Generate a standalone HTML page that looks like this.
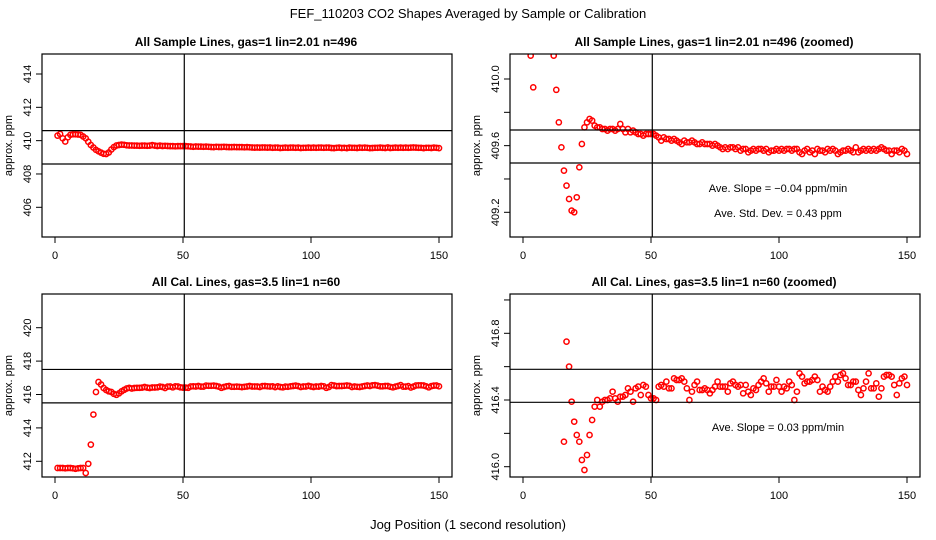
<!DOCTYPE html>
<html><head><meta charset="utf-8"><style>
html,body{margin:0;padding:0;background:#fff;overflow:hidden;width:936px;height:540px;}
svg{display:block;font-family:"Liberation Sans",sans-serif;}
</style></head><body>
<svg id="chart" width="936" height="540" viewBox="0 0 936 540">
<text x="468" y="18" text-anchor="middle" font-size="13">FEF_110203  CO2 Shapes Averaged by Sample or Calibration</text>
<text x="468" y="529" text-anchor="middle" font-size="13">Jog Position (1 second resolution)</text>
</svg>
<script>
const sampleVals = [
410.3,410.4,410.14,409.95,410.2,410.35,410.38,410.38,410.37,410.35,
410.25,410.14,409.935,409.74,409.59,409.45,409.36,409.28,409.21,409.2,
409.29,409.47,409.61,409.71,409.74,409.76,409.75,409.72,409.71,409.71,
409.70,409.70,409.69,409.70,409.70,409.69,409.70,409.73,409.70,409.68,
409.70,409.68,409.69,409.68,409.67,409.67,409.66,409.67,409.67,409.67,
409.67,409.66,409.65,409.63,409.65,409.64,409.64,409.63,409.64,409.63,
409.62,409.61,409.63,409.62,409.62,409.63,409.62,409.61,409.61,409.62,
409.61,409.61,409.61,409.60,409.61,409.60,409.59,409.58,409.59,409.58,
409.59,409.59,409.58,409.59,409.57,409.58,409.58,409.56,409.57,409.58,
409.57,409.58,409.58,409.57,409.58,409.56,409.57,409.57,409.58,409.57,
409.58,409.57,409.58,409.58,409.57,409.58,409.58,409.56,409.55,409.57,
409.58,409.56,409.57,409.55,409.58,409.57,409.57,409.56,409.58,409.57,
409.58,409.57,409.55,409.56,409.57,409.57,409.58,409.57,409.56,409.59,
409.56,409.57,409.58,409.57,409.58,409.57,409.58,409.57,409.58,409.59,
409.58,409.57,409.57,409.55,409.57,409.57,409.56,409.58,409.57,409.55];
const calVals = [
411.6,411.6,411.6,411.58,411.6,411.6,411.58,411.55,411.58,411.6,
411.6,411.3,411.85,413.0,414.8,416.15,416.75,416.6,416.39,416.27,
416.19,416.15,416.04,415.98,416.07,416.19,416.28,416.36,416.40,416.36,
416.39,416.40,416.40,416.41,416.45,416.41,416.39,416.42,416.42,416.43,
416.47,416.45,416.39,416.47,416.48,416.43,416.49,416.48,416.43,416.41,
416.41,416.40,416.48,416.49,416.48,416.51,416.47,416.47,416.53,416.52,
416.52,416.53,416.51,416.47,416.40,416.45,416.49,416.51,416.46,416.46,
416.47,416.46,416.44,416.46,416.48,416.51,416.48,416.48,416.48,416.45,
416.50,416.51,416.49,416.48,416.49,416.44,416.49,416.45,416.43,416.47,
416.46,416.49,416.51,416.53,416.50,416.45,416.48,416.48,416.52,416.48,
416.45,416.48,416.47,416.51,416.49,416.40,416.45,416.56,416.54,416.50,
416.51,416.51,416.52,416.54,416.52,416.45,416.48,416.46,416.45,416.48,
416.51,416.54,416.51,416.55,416.56,416.53,416.49,416.49,416.51,416.51,
416.46,416.43,416.47,416.51,416.56,416.47,416.47,416.50,416.42,416.47,
416.54,416.55,416.55,416.54,416.49,416.43,416.50,416.53,416.54,416.49];
const xTicks = [0,50,100,150];
const vLine = 50.5;
const panels = [
 {name:'sample-full', title:'All Sample Lines, gas=1 lin=2.01 n=496', vals:sampleVals, x0:0, top:54, bot:237, yA:414, pA:74, yB:406, pB:207.3,
  ticks:[406,408,410,412,414], labels:['406','408','410','412','414'], hlines:[410.6,408.6], notes:[]},
 {name:'sample-zoomed', title:'All Sample Lines, gas=1 lin=2.01 n=496 (zoomed)', vals:sampleVals, x0:468, top:54, bot:237, yA:410.0, pA:79, yB:409.2, pB:212.3,
  ticks:[409.2,409.4,409.6,409.8,410.0], labels:['409.2','','409.6','','410.0'], hlines:[409.694,409.496],
  notes:[['Ave. Slope =  \u22120.04  ppm/min',188],['Ave. Std. Dev. =  0.43  ppm',213]]},
 {name:'cal-full', title:'All Cal. Lines, gas=3.5 lin=1 n=60', vals:calVals, x0:0, top:294, bot:477, yA:420, pA:327.7, yB:412, pB:461.3,
  ticks:[412,414,416,418,420], labels:['412','414','416','418','420'], hlines:[417.5,415.5], notes:[]},
 {name:'cal-zoomed', title:'All Cal. Lines, gas=3.5 lin=1 n=60 (zoomed)', vals:calVals, x0:468, top:294, bot:477, yA:416.8, pA:333.3, yB:416.0, pB:466.7,
  ticks:[416.0,416.2,416.4,416.6,416.8,417.0], labels:['416.0','','416.4','','416.8',''], hlines:[416.584,416.386],
  notes:[['Ave. Slope =  0.03  ppm/min',427]]}
];
const NS='http://www.w3.org/2000/svg';
const svg=document.getElementById('chart');
function mk(tag,attrs,parent){const e=document.createElementNS(NS,tag);for(const k in attrs)e.setAttribute(k,attrs[k]);(parent||svg).appendChild(e);return e;}
panels.forEach((p,pi)=>{
 const L=p.x0+42,R=p.x0+452;
 const xs=v=>p.x0+55+v*384/150;
 const ys=v=>p.pA+(v-p.yA)*(p.pB-p.pA)/(p.yB-p.yA);
 const g=mk('g',{});
 
 
 const cp=mk('clipPath',{id:'cp'+pi},g);
 mk('rect',{x:L,y:p.top,width:R-L,height:p.bot-p.top},cp);
 const t=mk('text',{x:p.x0+246,y:p.top-8,'text-anchor':'middle','font-size':'12','font-weight':'bold'},g);
 t.textContent=p.title;
 
 
 const yl=mk('text',{x:0,y:0,'text-anchor':'middle','font-size':'11',transform:`translate(${p.x0+12},${(p.top+p.bot)/2}) rotate(-90)`},g);
 yl.textContent='approx. ppm';
 
 
 xTicks.forEach(v=>{
  mk('line',{x1:xs(v),x2:xs(v),y1:p.bot,y2:p.bot+6,stroke:'#000'},g);
  const tx=mk('text',{x:xs(v),y:p.bot+22,'text-anchor':'middle','font-size':'11'},g);
  tx.textContent=String(v);
  
  
 });
 p.ticks.forEach((v,i)=>{
  const y=ys(v);
  mk('line',{x1:L-6,x2:L,y1:y,y2:y,stroke:'#000'},g);
  if(p.labels[i]){
   const ty=mk('text',{x:0,y:0,'text-anchor':'middle','font-size':'11',transform:`translate(${p.x0+31},${y}) rotate(-90)`},g);
   ty.textContent=p.labels[i];
   
   
  }
 });
 const pts=mk('g',{'clip-path':`url(#cp${pi})`},g);
 p.vals.forEach((v,i)=>{
  const c=mk('circle',{cx:xs(i+1),cy:ys(v),r:2.6,fill:'none',stroke:'#f00','stroke-width':1.5},pts);
  
  
 });
 p.hlines.forEach(h=>{
  const l=mk('line',{x1:L,x2:R,y1:ys(h),y2:ys(h),stroke:'#000','stroke-width':1.2},g);
  
  
 });
 const vl=mk('line',{x1:xs(vLine),x2:xs(vLine),y1:p.top,y2:p.bot,stroke:'#000','stroke-width':1.2},g);
 
 
 mk('rect',{x:L,y:p.top,width:R-L,height:p.bot-p.top,fill:'none',stroke:'#000','stroke-width':1.2},g);
 p.notes.forEach(n=>{
  const a=mk('text',{x:p.x0+310,y:n[1]+4,'text-anchor':'middle','font-size':'11'},g);
  a.textContent=n[0];
  
  
 });
});
</script>
</body></html>
